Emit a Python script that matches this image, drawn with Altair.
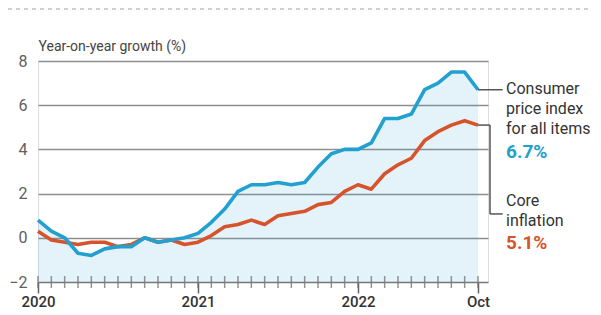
import altair as alt
import pandas as pd

# Monthly data, Jan 2020 .. Oct 2022
months = list(range(34))
cpi = [0.8, 0.3, 0.0, -0.7, -0.8, -0.5, -0.4, -0.4, 0.0, -0.2, -0.1, 0.0,
       0.2, 0.7, 1.3, 2.1, 2.4, 2.4, 2.5, 2.4, 2.5, 3.2, 3.8, 4.0,
       4.0, 4.3, 5.4, 5.4, 5.6, 6.7, 7.0, 7.5, 7.5, 6.7]
core = [0.3, -0.1, -0.2, -0.3, -0.2, -0.2, -0.4, -0.3, 0.0, -0.2, -0.1, -0.3,
        -0.2, 0.1, 0.5, 0.6, 0.8, 0.6, 1.0, 1.1, 1.2, 1.5, 1.6, 2.1,
        2.4, 2.2, 2.9, 3.3, 3.6, 4.4, 4.8, 5.1, 5.3, 5.1]
label_months = [0, 12, 24, 33]
label_texts = ["2020", "2021", "2022", "Oct"]
y_ticks = [-2, 0, 2, 4, 6, 8]

df = pd.DataFrame({"m": months, "cpi": cpi, "core": core})
df_major = pd.DataFrame({"m": label_months})

FONT = "Roboto"
BLUE = "#22a0d0"
ORANGE = "#d6532b"
GREY = "#555555"
TICK = "#666666"
H = 221

label_expr = " : ".join(
    [f"datum.value == {k} ? '{v}'" for k, v in zip(label_months, label_texts)]) + " : ''"

x_scale = alt.Scale(domain=[0, 33.75], nice=False, zero=False)
x_enc = alt.X(
    "m:Q", scale=x_scale,
    axis=alt.Axis(
        values=label_months, labelExpr=label_expr, labelOverlap=False, labelFlush=False,
        grid=False, domain=True, domainColor="#777777", domainWidth=1.5,
        ticks=True, tickColor=TICK, tickWidth=1.5, tickSize=11,
        labelPadding=1, labelFont=FONT, labelFontSize=15, labelFontWeight=500,
        labelColor="#333333", title=None, zindex=1,
    ),
)

y_scale = alt.Scale(domain=[-2, 8], nice=False)
y_axis = alt.Axis(
    values=y_ticks,
    ticks=False,
    domain=False,
    gridColor={"condition": {"test": "datum.value == -2", "value": "transparent"},
               "value": "#8f8f8f"},
    gridWidth=1.5,
    labelPadding=11,
    labelFont=FONT,
    labelFontSize=16,
    labelColor="#606060",
    title="Year-on-year growth (%)",
    titleAngle=0,
    titleAlign="left",
    titleBaseline="alphabetic",
    titleX=0,
    titleY=-11,
    titleFont=FONT,
    titleFontSize=14,
    titleFontWeight="normal",
    titleColor="#444444",
)

base = alt.Chart(df)

area = base.mark_area(color=BLUE, opacity=0.12).encode(
    x=x_enc,
    y=alt.Y("cpi:Q", scale=y_scale, axis=y_axis),
    y2=alt.datum(-2),
)
line_core = base.mark_line(color=ORANGE, strokeWidth=3.6, strokeJoin="round").encode(
    x="m:Q", y="core:Q")
line_cpi = base.mark_line(color=BLUE, strokeWidth=3.6, strokeJoin="round").encode(
    x="m:Q", y="cpi:Q")

# monthly minor ticks below the -2 line
minor_ticks = base.mark_tick(color=TICK, thickness=1.5, size=12, orient="vertical").encode(
    x="m:Q", y=alt.datum(-2))

conn1 = alt.Chart().mark_rule(color=GREY, strokeWidth=1.5).encode(
    x=alt.datum(33), x2=alt.datum(34.85), y=alt.datum(cpi[-1]))
conn2a = alt.Chart().mark_rule(color=GREY, strokeWidth=1.5).encode(
    x=alt.datum(33), x2=alt.datum(33.9), y=alt.datum(core[-1]))
conn2b = alt.Chart().mark_rule(color=GREY, strokeWidth=1.5).encode(
    x=alt.datum(33.9), y=alt.datum(core[-1]), y2=alt.datum(1.08))
conn2c = alt.Chart().mark_rule(color=GREY, strokeWidth=1.5).encode(
    x=alt.datum(33.9), x2=alt.datum(34.85), y=alt.datum(1.08))

top_dash = alt.Chart().mark_rule(color="#a0a0a0", strokeWidth=1.2, strokeDash=[4, 4]).encode(
    x=alt.value(-30), x2=alt.value(555), y=alt.value(-52))

def txt(lines, x, y, size=16, color="#333333", weight="normal"):
    return alt.Chart().mark_text(
        align="left", baseline="alphabetic", font=FONT, fontSize=size,
        fontWeight=weight, color=color, lineHeight=20,
    ).encode(x=alt.value(x), y=alt.value(y), text=alt.value(lines))

t1 = txt(["Consumer", "price index", "for all items"], 468, 33)
t1p = txt("6.7%", 468, 97, size=19, color=BLUE, weight="bold")
t2 = txt(["Core", "inflation"], 468, 145)
t2p = txt("5.1%", 468, 188, size=19, color=ORANGE, weight="bold")

chart = alt.layer(
    area, line_core, line_cpi, minor_ticks,
    conn1, conn2a, conn2b, conn2c, top_dash,
    t1, t1p, t2, t2p,
).properties(
    width=450,
    height=H,
    autosize=alt.AutoSizeParams(type="none"),
    padding={"left": 30, "top": 53, "right": 104, "bottom": 25},
).configure_view(stroke=None).configure(background="white")

chart.save("out.html", embed_options={"renderer": "svg", "actions": False})
